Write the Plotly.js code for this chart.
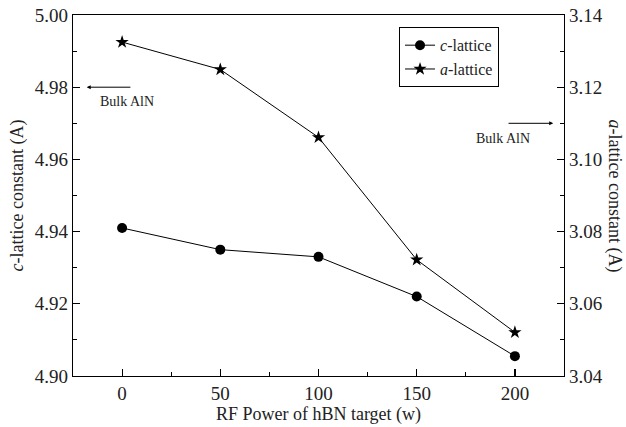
<!DOCTYPE html>
<html><head><meta charset="utf-8">
<script src="https://cdn.plot.ly/plotly-3.0.1.min.js"></script>
<style>html,body{margin:0;padding:0;background:#fff}#chart{width:626px;height:427px}</style>
</head><body><div id="chart"></div>
<script>
const power = [0, 50, 100, 150, 200];
const cLattice = [4.941, 4.935, 4.933, 4.922, 4.9055];
const aLattice = [3.1325, 3.1249, 3.1061, 3.0722, 3.0521];
const xTicks = [0, 50, 100, 150, 200];
const bulkC = 4.98;
const bulkA = 3.110;

const F = 'Liberation Serif';
const traces = [
  {x: power, y: cLattice, name: '<i>c</i>-lattice', mode: 'lines+markers', yaxis: 'y',
   line: {color: '#000', width: 1}, marker: {symbol: 'circle', size: 10, color: '#000'}},
  {x: power, y: aLattice, name: '<i>a</i>-lattice', mode: 'lines+markers', yaxis: 'y2',
   line: {color: '#000', width: 1}, marker: {symbol: 'star', size: 10, color: '#000'}}
];
const axCommon = {showline: true, linecolor: '#000', linewidth: 1.2, ticks: 'inside', ticklen: 7, tickwidth: 1.2,
  tickcolor: '#000', showgrid: false, zeroline: false, layer: 'above traces',
  tickfont: {family: F, size: 19, color: '#222'}};
const layout = {
  width: 626, height: 427,
  margin: {l: 73, r: 62, t: 15, b: 51},
  paper_bgcolor: '#fff', plot_bgcolor: 'rgba(0,0,0,0)',
  font: {family: F, color: '#222'},
  xaxis: Object.assign({}, axCommon, {range: [-25, 225], tickvals: xTicks, mirror: true,
    minor: {dtick: 25, tick0: 0, ticks: 'inside', ticklen: 4, tickwidth: 1, tickcolor: '#000'},
    title: {text: 'RF Power of hBN target (w)', font: {family: F, size: 18, color: '#222'}, standoff: 3}}),
  yaxis: Object.assign({}, axCommon, {range: [4.90, 5.00], dtick: 0.02, tickformat: '.2f',
    minor: {dtick: 0.01, ticks: 'inside', ticklen: 4, tickwidth: 1, tickcolor: '#000'},
    title: {text: '<i>c</i>-lattice constant (A)', font: {family: F, size: 18, color: '#222'}, standoff: 6}}),
  yaxis2: Object.assign({}, axCommon, {range: [3.04, 3.14], dtick: 0.02, tickformat: '.2f',
    overlaying: 'y', side: 'right',
    minor: {dtick: 0.01, ticks: 'inside', ticklen: 4, tickwidth: 1, tickcolor: '#000'}}),
  showlegend: true,
  legend: {x: 0.664, y: 0.966, xanchor: 'left', yanchor: 'top', bgcolor: '#fff', bordercolor: '#000', borderwidth: 1,
    font: {family: F, size: 16, color: '#222'}, tracegroupgap: 0, itemwidth: 30},
  annotations: [
    {x: -18, y: bulkC, xref: 'x', yref: 'y', ax: 5, ay: bulkC, axref: 'x', ayref: 'y', text: '',
     showarrow: true, arrowhead: 2, arrowsize: 0.8, arrowwidth: 1, arrowcolor: '#000'},
    {x: -12.5, y: bulkC, xref: 'x', yref: 'y', yshift: -14, text: 'Bulk AlN', showarrow: false,
     font: {family: F, size: 14, color: '#222'}, xanchor: 'left'},
    {x: 219.5, y: bulkA, xref: 'x', yref: 'y2', ax: 196, ay: bulkA, axref: 'x', ayref: 'y2', text: '',
     showarrow: true, arrowhead: 2, arrowsize: 0.8, arrowwidth: 1, arrowcolor: '#000'},
    {x: 193.8, y: bulkA, xref: 'x', yref: 'y2', yshift: -15, text: 'Bulk AlN', showarrow: false,
     font: {family: F, size: 14, color: '#222'}, xanchor: 'center'},
    {x: 1, y: 0.5, xref: 'paper', yref: 'paper', xanchor: 'center', yanchor: 'middle', xshift: 50,
     text: '<i>a</i>-lattice constant (A)', textangle: 90, showarrow: false,
     font: {family: F, size: 18, color: '#222'}}
  ]
};
Plotly.newPlot('chart', traces, layout, {staticPlot: true});
</script></body></html>
